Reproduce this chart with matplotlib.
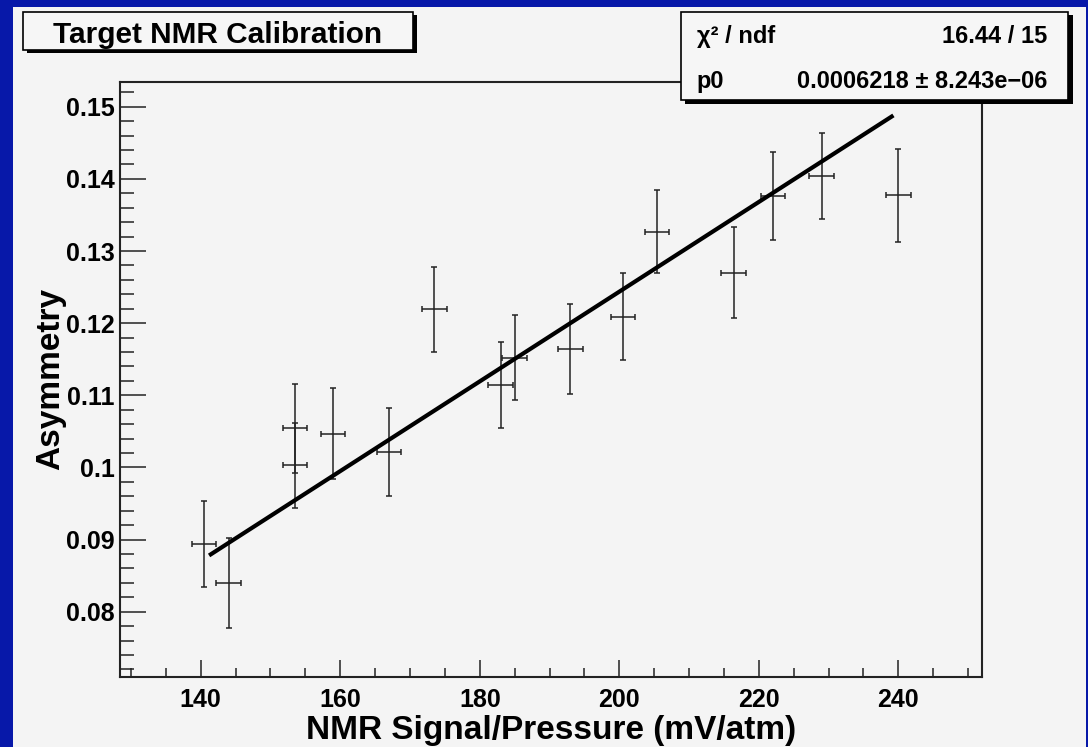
import numpy as np
import matplotlib.pyplot as plt
from matplotlib.patches import Rectangle
from matplotlib.ticker import MultipleLocator, FuncFormatter

W, H = 1088, 747

# measured points (NMR signal / pressure vs asymmetry)
nmr = [140.5, 144.0, 153.5, 153.5, 159.0, 167.0, 173.5, 183.0,
       185.0, 193.0, 200.5, 205.4, 216.4, 222.0, 229.0, 240.0]
nmr_err = [1.75] * 16
asym = [0.0894, 0.0840, 0.1054, 0.1003, 0.1047, 0.1021, 0.1219, 0.1114,
        0.1152, 0.1164, 0.1209, 0.1327, 0.1270, 0.1376, 0.1404, 0.1377]
asym_err = [0.0060, 0.0062, 0.0062, 0.0059, 0.0063, 0.0061, 0.0059, 0.0060,
            0.0059, 0.0062, 0.0060, 0.0057, 0.0063, 0.0061, 0.0060, 0.0065]

# fit result  y = p0 * x
p0 = 0.0006218
p0_err = "8.243e\u221206"
chi2_txt = "16.44 / 15"
fit_lo, fit_hi = 141.2, 239.3

plt.rcParams['font.family'] = ['Liberation Sans', 'DejaVu Sans']
plt.rcParams['font.weight'] = 'bold'
plt.rcParams['axes.labelweight'] = 'bold'

fig = plt.figure(figsize=(W / 100, H / 100), dpi=100, facecolor='#0718a9')


def fx(x):
    return x / W


def fy(y):
    return 1 - y / H


def box(x0, y0, x1, y1, **kw):
    r = Rectangle((fx(x0), fy(y1)), (x1 - x0) / W, (y1 - y0) / H,
                  transform=fig.transFigure, **kw)
    fig.add_artist(r)
    return r


# grey pad inside the blue border
box(13, 7, 1086, 747, facecolor='#f4f4f4', edgecolor='none', zorder=-10)

ax = fig.add_axes([fx(120), fy(676.7), (982.3 - 120) / W, (676.7 - 81.7) / H])
ax.set_facecolor('#f4f4f4')

ax.errorbar(nmr, asym, xerr=nmr_err, yerr=asym_err, fmt='none',
            ecolor='#222222', elinewidth=1.1, capsize=2.5, capthick=1.1)

xs = np.linspace(fit_lo, fit_hi, 50)
ax.plot(xs, p0 * xs, color='black', lw=3, solid_capstyle='butt')

ax.set_xlim(128.43, 252.04)
ax.set_ylim(0.07099, 0.15347)

ax.xaxis.set_major_locator(MultipleLocator(20))
ax.xaxis.set_minor_locator(MultipleLocator(5))
ax.yaxis.set_major_locator(MultipleLocator(0.01))
ax.yaxis.set_minor_locator(MultipleLocator(0.002))
ax.yaxis.set_major_formatter(FuncFormatter(lambda v, p: f'{round(v, 4):g}'))

for s in ax.spines.values():
    s.set_linewidth(1.5)
    s.set_color('#222222')

ax.tick_params(axis='y', which='major', direction='in', length=19, width=1.1,
               color='#222222', labelsize=18, pad=4, right=False)
ax.tick_params(axis='y', which='minor', direction='in', length=10, width=1.1,
               color='#222222', right=False)
ax.tick_params(axis='x', which='major', direction='in', length=12, width=1.1,
               color='#222222', labelsize=18, pad=8, top=False)
ax.tick_params(axis='x', which='minor', direction='in', length=6.5, width=1.1,
               color='#222222', top=False)

ax.set_xlabel('NMR Signal/Pressure (mV/atm)', fontsize=24, fontweight='bold')
ax.xaxis.set_label_coords(0.5, -0.065)
ax.set_ylabel('Asymmetry', fontsize=24, fontweight='bold')
ax.yaxis.set_label_coords(-0.063, 0.5)

# title box
box(26.5, 15, 417, 53, facecolor='black', edgecolor='none', zorder=5)
box(23.3, 11.7, 413.3, 50, facecolor='#f6f6f6', edgecolor='black',
    linewidth=1.2, zorder=6)
fig.text(fx(218), fy(42.7), 'Target NMR Calibration', fontsize=21.4,
         ha='center', va='baseline', zorder=7)

# stats box
box(684.5, 15.5, 1072.5, 104, facecolor='black', edgecolor='none', zorder=5)
box(680.7, 11.7, 1068.3, 100, facecolor='#f6f6f6', edgecolor='black',
    linewidth=1.2, zorder=6)
fig.text(fx(696.7), fy(42.7), '\u03c7\u00b2 / ndf', fontsize=17,
         ha='left', va='baseline', zorder=7)
fig.text(fx(1047), fy(42.7), chi2_txt, fontsize=17,
         ha='right', va='baseline', zorder=7)
fig.text(fx(696.7), fy(88.3), 'p0', fontsize=17,
         ha='left', va='baseline', zorder=7)
fig.text(fx(1047), fy(88.3), f'{p0:.7f} \u00b1 {p0_err}', fontsize=17,
         ha='right', va='baseline', zorder=7)

fig.savefig('out.png', dpi=100, facecolor=fig.get_facecolor())
